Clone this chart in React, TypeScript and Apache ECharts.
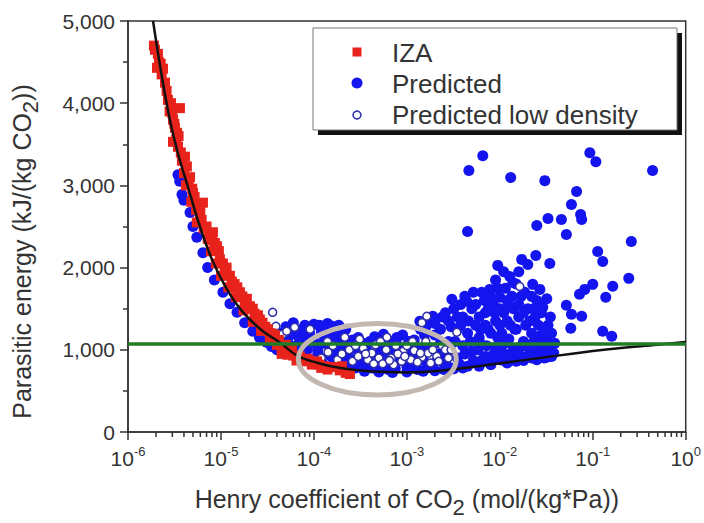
import React, { useEffect, useRef } from "react";
import * as echarts from "echarts";

// ---- axis ticks ----
const xDecadeExponents = [-6, -5, -4, -3, -2, -1, 0];
const xMinorMultipliers = [2, 3, 4, 5, 6, 7, 8, 9];
const yMin = 0;
const yMax = 5000;
const yInterval = 1000;

// ---- data ----
const izaPoints: [number, number][] = [
  [1.95e-6, 4650], [2.05e-6, 4430], [2.15e-6, 4500], [2.38e-6, 4420], [2.3e-6, 4350],
  [2.69e-6, 4040], [2.8e-6, 3900], [3.62e-6, 3940], [3.05e-6, 3800], [3.2e-6, 3700],
  [3.37e-6, 3640], [3.05e-6, 3530], [3.45e-6, 3470], [3.3e-6, 3560], [4.3e-6, 3230],
  [4.0e-6, 3150], [4.65e-6, 3100], [4.2e-6, 3000], [5.0e-6, 2910], [6.4e-6, 2790],
  [4.8e-6, 2800], [5.4e-6, 2700], [5.94e-6, 2620], [5.5e-6, 2550], [6.5e-6, 2480],
  [8.2e-6, 2430], [7.2e-6, 2350], [8.6e-6, 2300], [9.06e-6, 2260], [7.8e-6, 2200],
  [9.75e-6, 2100], [8.8e-6, 2050], [1.1e-5, 1950], [1.0e-5, 1900], [1.31e-5, 1830],
  [1.2e-5, 1760], [1.6e-5, 1700], [1.45e-5, 1640], [1.8e-5, 1580], [2.05e-5, 1530],
  [1.75e-5, 1480], [2.3e-5, 1440], [2.62e-5, 1370], [2.2e-5, 1340], [3.0e-5, 1280],
  [2.7e-5, 1230], [3.36e-5, 1130], [3.8e-5, 1180], [4.0e-5, 1060], [4.64e-5, 1010],
  [5.5e-5, 1000], [4.5e-5, 950], [6.0e-5, 930], [7.07e-5, 920], [8.5e-5, 890],
  [6.5e-5, 870], [1.08e-4, 860], [9.5e-5, 820], [1.3e-4, 800], [1.6e-4, 790],
  [1.9e-4, 750], [2.2e-4, 720], [2.44e-4, 705], [1.4e-4, 760], [2.0e-4, 800],
  [1.9e-6, 4700], [2.1e-6, 4600], [2.25e-6, 4480], [2.5e-6, 4250], [2.6e-6, 4150],
  [2.9e-6, 4000], [3.0e-6, 3880], [3.15e-6, 3750], [3.5e-6, 3600], [3.7e-6, 3400],
  [3.8e-6, 3300], [4.1e-6, 3350], [4.5e-6, 3050], [4.9e-6, 2960], [5.2e-6, 2860],
  [5.7e-6, 2750], [6.0e-6, 2700], [6.2e-6, 2580], [7.0e-6, 2500], [7.5e-6, 2420],
  [8.0e-6, 2330], [9.5e-6, 2200], [1.05e-5, 2050], [1.15e-5, 2000], [1.25e-5, 1900],
  [1.4e-5, 1800], [1.5e-5, 1760], [1.7e-5, 1650], [1.9e-5, 1620], [2.2e-5, 1500],
  [2.5e-5, 1420], [2.8e-5, 1330], [3.2e-5, 1250], [3.5e-5, 1200], [4.2e-5, 1120],
  [5.0e-5, 1060], [5.2e-5, 940], [5.8e-5, 1000], [7.5e-5, 860], [9.0e-5, 870],
  [1.15e-4, 820], [1.2e-4, 780],
];

const predictedPoints: [number, number][] = [
  // left branch
  [3.45e-6, 3130], [3.6e-6, 3050], [3.81e-6, 2890], [4.0e-6, 2820], [4.65e-6, 2670],
  [5.0e-6, 2500], [5.5e-6, 2370], [6.4e-6, 2180], [7.2e-6, 2000], [8.5e-6, 1850],
  [1.05e-5, 1700], [1.25e-5, 1560], [1.49e-5, 1456], [1.8e-5, 1330], [2.2e-5, 1226],
  [2.6e-5, 1150], [3.1e-5, 1092], [3.5e-5, 1040], [4.0e-5, 1000],
  // region above curve, 4e-5 .. 2e-4
  [4.5e-5, 1120], [5.0e-5, 1280], [5.5e-5, 1180], [6.0e-5, 1330], [6.5e-5, 1050],
  [7.0e-5, 1240], [7.5e-5, 1120], [8.0e-5, 1300], [8.5e-5, 1000], [9.0e-5, 1200],
  [1.0e-4, 1310], [1.05e-4, 1080], [1.1e-4, 950], [1.2e-4, 1230], [1.3e-4, 1150],
  [1.4e-4, 1320], [1.5e-4, 1020], [1.6e-4, 900], [1.7e-4, 1250], [1.8e-4, 1100],
  [4.2e-5, 1200], [5.2e-5, 1100], [5.8e-5, 1240], [6.8e-5, 1160], [7.2e-5, 1030],
  [8.2e-5, 1200], [9.5e-5, 1120], [1.15e-4, 1300], [1.35e-4, 1240], [1.55e-4, 1290],
  [1.85e-4, 1300], [2.2e-4, 1250], [6.0e-5, 1030], [8.0e-5, 950],
  // inside highlighted region
  [2.0e-4, 1180], [2.2e-4, 850], [2.5e-4, 1050], [2.8e-4, 780], [3.0e-4, 1150],
  [3.3e-4, 950], [3.6e-4, 800], [4.0e-4, 1100], [4.4e-4, 870], [4.8e-4, 760],
  [5.2e-4, 1000], [5.6e-4, 1190], [6.0e-4, 820], [6.5e-4, 930], [7.0e-4, 1100],
  [7.5e-4, 770], [8.0e-4, 1050], [8.5e-4, 880], [9.0e-4, 1180], [1.0e-3, 800],
  [1.1e-3, 960], [1.2e-3, 1120], [1.3e-3, 760], [1.4e-3, 1250], [1.5e-3, 870],
  [1.6e-3, 1050], [1.8e-3, 1350], [1.9e-3, 780], [2.0e-3, 1180], [2.2e-3, 950],
  [2.4e-3, 1400], [2.6e-3, 850], [2.8e-3, 1100], [3.0e-3, 1280], [3.2e-3, 770],
  [1.38e-3, 1347], [1.9e-3, 1408],
  [1.0e-4, 880], [1.1e-4, 1000], [1.25e-4, 830], [1.3e-4, 1080], [1.45e-4, 940],
  [1.6e-4, 1160], [1.75e-4, 980], [1.9e-4, 860], [2.1e-4, 1060], [2.3e-4, 950],
  [2.6e-4, 1120], [2.7e-4, 880], [2.9e-4, 1000], [3.2e-4, 860], [3.4e-4, 1080],
  [3.8e-4, 980], [4.2e-4, 780], [4.5e-4, 1160], [5.0e-4, 940], [5.4e-4, 850],
  [5.8e-4, 1060], [6.3e-4, 760], [6.8e-4, 1000], [7.2e-4, 880], [7.8e-4, 1150],
  [8.3e-4, 960], [9.5e-4, 870], [1.05e-3, 1100], [1.15e-3, 800], [1.25e-3, 1020],
  [1.35e-3, 900], [1.55e-3, 1180], [1.7e-3, 800], [1.75e-3, 1000], [2.1e-3, 860],
  [2.3e-3, 1080], [2.5e-3, 950], [2.7e-3, 800], [2.9e-3, 1000],
  // bottom edge along curve
  [1.7e-4, 820], [2.4e-4, 760], [3.5e-4, 740], [5.0e-4, 730], [7.0e-4, 725],
  [1.0e-3, 730], [1.5e-3, 740], [2.0e-3, 745], [2.5e-3, 760], [3.0e-3, 780],
  [4.0e-3, 780], [6.0e-3, 800], [8.0e-3, 820], [1.2e-2, 840], [1.8e-2, 870],
  [2.5e-2, 880], [3.2e-2, 910],
  // dense band 3e-3 .. 4e-2
  [3.5e-3, 900], [4.0e-3, 1050], [4.5e-3, 800], [5.0e-3, 980], [5.5e-3, 850],
  [6.0e-3, 1100], [7.0e-3, 920], [8.0e-3, 820], [9.0e-3, 1030], [1.0e-2, 880],
  [1.15e-2, 1080], [1.3e-2, 950], [1.5e-2, 860], [1.7e-2, 1040], [2.0e-2, 920],
  [2.3e-2, 1090], [2.6e-2, 980], [3.0e-2, 900], [3.4e-2, 1050], [3.8e-2, 960],
  [3.2e-2, 1120], [2.8e-2, 1180],
  [3.3e-3, 1100], [3.7e-3, 820], [4.2e-3, 950], [4.8e-3, 1100], [5.2e-3, 870],
  [5.8e-3, 1000], [6.5e-3, 880], [7.2e-3, 1050], [8.5e-3, 940], [9.5e-3, 1150],
  [1.05e-2, 980], [1.1e-2, 870], [1.25e-2, 1130], [1.4e-2, 1000], [1.6e-2, 950],
  [1.8e-2, 1100], [2.1e-2, 1000], [2.2e-2, 900], [2.4e-2, 1150], [2.7e-2, 1060],
  [2.9e-2, 980], [3.1e-2, 1000], [3.5e-2, 980], [3.9e-2, 1080], [3.6e-2, 920],
  // upper cloud
  [3.05e-3, 1614], [4.4e-3, 1590], [6.4e-3, 1700], [7.8e-3, 1735], [1.0e-2, 1638],
  [2.9e-2, 1517], [2.7e-2, 1735], [3.5e-3, 1250], [4.0e-3, 1400], [4.5e-3, 1200],
  [5.0e-3, 1500], [5.5e-3, 1300], [6.0e-3, 1150], [7.0e-3, 1450], [7.5e-3, 1250],
  [8.5e-3, 1550], [9.0e-3, 1350], [1.05e-2, 1200], [1.1e-2, 1450], [1.2e-2, 1600],
  [1.3e-2, 1300], [1.4e-2, 1500], [1.5e-2, 1250], [1.6e-2, 1400], [1.7e-2, 1650],
  [1.9e-2, 1300], [2.0e-2, 1500], [2.2e-2, 1200], [2.4e-2, 1400], [2.5e-2, 1600],
  [3.3e-2, 1300], [3.6e-2, 1200],
  [1.6e-3, 1280], [2.0e-3, 1320], [2.3e-3, 1250], [2.6e-3, 1450], [2.8e-3, 1350],
  [3.2e-3, 1500], [3.5e-3, 1400], [3.8e-3, 1550], [3.8e-3, 1300], [4.2e-3, 1650],
  [4.6e-3, 1350], [5.2e-3, 1700], [5.5e-3, 1550], [6.0e-3, 1400], [6.2e-3, 1250],
  [6.8e-3, 1600], [7.0e-3, 1300], [7.5e-3, 1500], [8.0e-3, 1650], [8.0e-3, 1200],
  [8.8e-3, 1450], [9.5e-3, 1750], [1.0e-2, 1300], [1.0e-2, 1500], [1.15e-2, 1750],
  [1.2e-2, 1350], [1.25e-2, 1550], [1.35e-2, 1650], [1.45e-2, 1250], [1.5e-2, 1800],
  [1.6e-2, 1550], [1.8e-2, 1450], [1.85e-2, 1700], [2.1e-2, 1350], [2.2e-2, 1650],
  [2.3e-2, 1500], [2.6e-2, 1300], [2.8e-2, 1450], [3.0e-2, 1250], [3.2e-2, 1620],
  [3.5e-2, 1400], [1.6e-2, 1950], [1.1e-2, 1950], [9.0e-3, 1850],
  // scattered high points
  [9.5e-3, 2027], [1.28e-2, 1893], [1.38e-2, 1820], [2.26e-2, 1796], [1.72e-2, 2100],
  [2.0e-2, 2039], [2.44e-2, 2148], [3.45e-2, 2051], [4.5e-3, 2439], [2.5e-2, 2512],
  [3.3e-2, 2597], [4.6e-2, 2585], [5.9e-2, 2767], [6.7e-2, 2925], [7.4e-2, 2646],
  [7.6e-2, 2585], [5.2e-2, 2403], [3.05e-2, 3058], [1.31e-2, 3095], [4.65e-3, 3180],
  [6.56e-3, 3362], [9.3e-2, 3398], [0.108, 3289], [0.44, 3180], [0.26, 2318],
  [0.113, 2197], [0.128, 2075], [0.244, 1869], [0.164, 1772], [0.1, 1796],
  [0.082, 1735], [0.072, 1675], [0.138, 1638], [0.052, 1541], [0.059, 1432],
  [0.076, 1408], [0.058, 1262], [0.128, 1226], [0.16, 1165],
];

const lowDensityPoints: [number, number][] = [
  [3.6e-5, 1456], [3.9e-5, 1286], [4.6e-5, 1190], [5.1e-5, 1226], [6.2e-5, 1274],
  [9.1e-5, 1250], [1.42e-4, 971], [2.15e-4, 1153], [3.1e-4, 1129], [6.1e-4, 1153],
  [9.1e-4, 983], [1.45e-3, 910], [2.1e-3, 922], [3.45e-3, 1214], [1.64e-3, 1408],
  [1.2e-4, 900], [1.6e-4, 1050], [1.8e-4, 880], [2.0e-4, 950], [2.4e-4, 1000],
  [2.6e-4, 860], [3.0e-4, 920], [3.4e-4, 1020], [3.8e-4, 880], [4.2e-4, 960],
  [4.6e-4, 1060], [5.0e-4, 900], [5.5e-4, 830], [6.0e-4, 1000], [6.8e-4, 900],
  [7.2e-4, 820], [8.0e-4, 950], [8.8e-4, 860], [1.0e-3, 1050], [1.1e-3, 880],
  [1.2e-3, 990], [1.3e-3, 850], [1.6e-3, 1100], [1.7e-3, 960], [1.8e-3, 840],
  [2.4e-3, 1050], [2.6e-3, 1000], [2.8e-3, 900], [1.45e-3, 1330],
  [1.4e-4, 1100], [2.8e-4, 1050], [3.6e-4, 950], [4.4e-4, 830], [5.2e-4, 1100],
  [6.5e-4, 870], [7.6e-4, 1050], [9.5e-4, 920], [1.15e-3, 1100], [1.4e-3, 960],
  [1.9e-3, 1000], [2.2e-3, 860], [3.0e-3, 1000], [1.64e-2, 1770],
];

const fitCurve: [number, number][] = [
  [1.86e-6, 5000], [2.6e-6, 4000], [3.37e-6, 3430], [4.5e-6, 2950], [5.94e-6, 2500],
  [8.0e-6, 2100], [1.16e-5, 1735], [1.73e-5, 1456], [2.83e-5, 1226], [4.3e-5, 1090],
  [6.6e-5, 930], [1.1e-4, 840], [2.0e-4, 775], [4.0e-4, 738], [1.0e-3, 725],
  [3.0e-3, 760], [1.0e-2, 835], [3.6e-2, 920], [0.1, 985], [0.19, 1020],
  [0.5, 1062], [1, 1095],
];

const thresholdLine: [number, number][] = [[1e-6, 1070], [1, 1070]];

// highlighted region: [xMin, yMin, xMax, yMax]
const highlightRegion: [number, number, number, number][] = [[6.8e-5, 450, 3.4e-3, 1320]];

const legendNames = ["IZA", "Predicted", "Predicted low density"];

// ---- styles ----
const FONT = "'Liberation Sans', Arial, sans-serif";
const TXT = "#333";
const AXIS = "#333";
const RED = "#e8231b";
const BLUE = "#1414ee";
const OPEN_STROKE = "#2e2ea8";

const xMinorTicks: [number, number][] = [];
for (let i = 0; i < xDecadeExponents.length - 1; i++) {
  for (const m of xMinorMultipliers) {
    xMinorTicks.push([m * Math.pow(10, xDecadeExponents[i]), 0]);
  }
}

function fmtThousands(v: number) {
  return String(Math.round(v)).replace(/\B(?=(\d{3})+(?!\d))/g, ",");
}

export default function App() {
  const ref = useRef<HTMLDivElement>(null);
  useEffect(() => {
    if (!ref.current) return;
    const chart = echarts.init(ref.current, null, { renderer: "svg" });
    const gridLeft = 128, gridTop = 21, gridRight = 18, gridBottom = 90;

    const option: any = {
      animation: false,
      backgroundColor: "#ffffff",
      textStyle: { fontFamily: FONT },
      grid: {
        left: gridLeft, top: gridTop, right: gridRight, bottom: gridBottom,
        show: true, borderColor: AXIS, borderWidth: 1.5, backgroundColor: "transparent",
      },
      xAxis: {
        type: "log",
        logBase: 10,
        min: Math.pow(10, xDecadeExponents[0]),
        max: Math.pow(10, xDecadeExponents[xDecadeExponents.length - 1]),
        splitNumber: xDecadeExponents.length - 1,
        axisLine: { show: true, onZero: false, lineStyle: { color: AXIS, width: 1.5 } },
        axisTick: { show: true, inside: false, length: 8, lineStyle: { color: AXIS, width: 1.5 } },
        splitLine: { show: false },
        minorTick: { show: false },
        axisLabel: {
          margin: 13,
          formatter: (v: number) => {
            const e = Math.round(Math.log10(v));
            return "{b|10}{s|" + e + "}";
          },
          rich: {
            b: { fontSize: 21, color: TXT, fontFamily: FONT, verticalAlign: "bottom", lineHeight: 24 },
            s: { fontSize: 13, color: TXT, fontFamily: FONT, verticalAlign: "top", lineHeight: 24 },
          },
        },
        name: "{t|Henry coefficient of CO}{sub|2}{t| (mol/(kg*Pa))}",
        nameLocation: "middle",
        nameGap: 54,
        nameTextStyle: {
          rich: {
            t: { fontSize: 25, color: TXT, fontFamily: FONT, verticalAlign: "top", lineHeight: 32 },
            sub: { fontSize: 22, color: TXT, fontFamily: FONT, verticalAlign: "bottom", lineHeight: 32 },
          },
        },
      },
      yAxis: {
        type: "value",
        min: yMin,
        max: yMax,
        interval: yInterval,
        axisLine: { show: true, onZero: false, lineStyle: { color: AXIS, width: 1.5 } },
        axisTick: { show: true, inside: false, length: 8, lineStyle: { color: AXIS, width: 1.5 } },
        minorTick: { show: true, splitNumber: 2, length: 5, lineStyle: { color: AXIS, width: 1.5 } },
        splitLine: { show: false },
        axisLabel: {
          margin: 13,
          fontSize: 21,
          color: TXT,
          fontFamily: FONT,
          formatter: (v: number) => fmtThousands(v),
        },
        name: "{t|Parasitic energy (kJ/(kg CO}{sub|2}{t|))}",
        nameLocation: "middle",
        nameRotate: 90,
        nameGap: 87,
        nameTextStyle: {
          padding: [0, 50, 0, 0],
          rich: {
            t: { fontSize: 25, color: TXT, fontFamily: FONT, verticalAlign: "top", lineHeight: 32 },
            sub: { fontSize: 22, color: TXT, fontFamily: FONT, verticalAlign: "bottom", lineHeight: 32 },
          },
        },
      },
      series: [
        {
          name: legendNames[1],
          type: "scatter",
          data: predictedPoints,
          symbol: "circle",
          symbolSize: 11,
          itemStyle: { color: BLUE, opacity: 1 },
          z: 2,
          silent: true,
        },
        {
          name: legendNames[2],
          type: "scatter",
          data: lowDensityPoints,
          symbol: "circle",
          symbolSize: 8,
          itemStyle: { color: "#ffffff", borderColor: OPEN_STROKE, borderWidth: 1.5, opacity: 1 },
          z: 3,
          silent: true,
        },
        {
          name: legendNames[0],
          type: "scatter",
          data: izaPoints,
          symbol: "rect",
          symbolSize: 10,
          itemStyle: { color: RED, opacity: 1 },
          z: 4,
          silent: true,
        },
        {
          name: "fit",
          type: "line",
          data: fitCurve,
          smooth: 0.4,
          showSymbol: false,
          symbol: "none",
          lineStyle: { color: "#111", width: 2.5 },
          z: 5,
          silent: true,
        },
        {
          name: "threshold",
          type: "line",
          data: thresholdLine,
          showSymbol: false,
          symbol: "none",
          lineStyle: { color: "#1f7d26", width: 3.5 },
          z: 6,
          silent: true,
        },
        {
          name: "xMinorTicks",
          type: "custom",
          data: xMinorTicks,
          clip: false,
          silent: true,
          z: 6,
          renderItem: (params: any, api: any) => {
            const p = api.coord([api.value(0), api.value(1)]);
            return {
              type: "line",
              shape: { x1: p[0], y1: p[1], x2: p[0], y2: p[1] + 5 },
              style: { stroke: AXIS, lineWidth: 1.5 },
            };
          },
        },
        {
          name: "highlight",
          type: "custom",
          data: highlightRegion,
          encode: { x: [0, 2], y: [1, 3] },
          clip: false,
          silent: true,
          z: 8,
          renderItem: (params: any, api: any) => {
            const p1 = api.coord([api.value(0), api.value(1)]);
            const p2 = api.coord([api.value(2), api.value(3)]);
            return {
              type: "ellipse",
              shape: {
                cx: (p1[0] + p2[0]) / 2,
                cy: (p1[1] + p2[1]) / 2,
                rx: Math.abs(p2[0] - p1[0]) / 2,
                ry: Math.abs(p2[1] - p1[1]) / 2,
              },
              style: { fill: "none", stroke: "#c3b8b1", lineWidth: 5 },
            };
          },
        },
      ],
      graphic: [
        { type: "rect", shape: { x: 318, y: 33, width: 364, height: 102 }, style: { fill: "#111" }, z: 20 },
        { type: "rect", shape: { x: 313, y: 28, width: 364, height: 102 }, style: { fill: "#fff", stroke: "#777", lineWidth: 1 }, z: 21 },
        { type: "rect", shape: { x: 352.5, y: 47.5, width: 9, height: 9 }, style: { fill: RED }, z: 22 },
        { type: "circle", shape: { cx: 357, cy: 83, r: 5.5 }, style: { fill: BLUE }, z: 22 },
        { type: "circle", shape: { cx: 357, cy: 115, r: 4 }, style: { fill: "#fff", stroke: OPEN_STROKE, lineWidth: 1.5 }, z: 22 },
        { type: "text", x: 392, y: 53, style: { text: legendNames[0], fontSize: 26, fontFamily: FONT, fill: TXT, verticalAlign: "middle" }, z: 22 },
        { type: "text", x: 392, y: 84, style: { text: legendNames[1], fontSize: 26, fontFamily: FONT, fill: TXT, verticalAlign: "middle" }, z: 22 },
        { type: "text", x: 392, y: 115, style: { text: legendNames[2], fontSize: 26, fontFamily: FONT, fill: TXT, verticalAlign: "middle" }, z: 22 },
      ],
    };
    chart.setOption(option);
    return () => chart.dispose();
  }, []);
  return (
    <div
      ref={ref}
      style={{ position: "absolute", left: 0, top: 0, width: 704, height: 523, background: "#fff" }}
    />
  );
}
